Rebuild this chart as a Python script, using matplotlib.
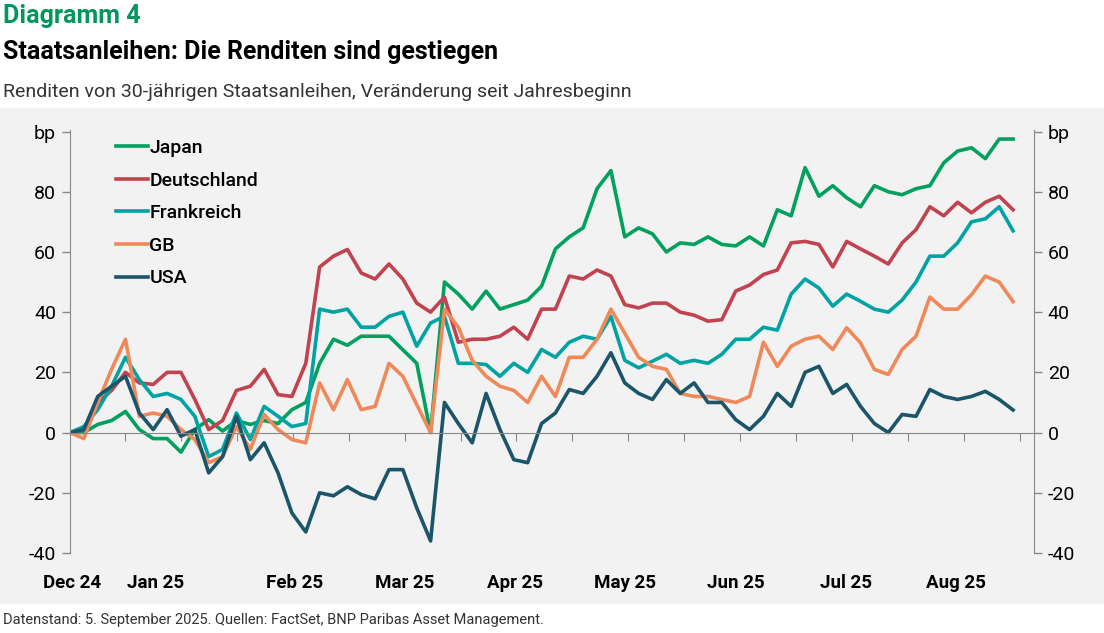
import numpy as np
import matplotlib.pyplot as plt
from matplotlib.patches import Rectangle

# Veränderung seit Jahresbeginn in bp, ~alle 3.6 Tage gelesen
japan = [0, 0, 2.7, 4, 7, 1, -2, -2, -6.5, 1, 4.3, 0.5, 4, 2.7, 4, 3, 7.6, 10, 23, 31, 29, 32, 32, 32,
         27.5, 23, 0, 50, 46, 41, 47, 41, 42.5, 44, 48.6, 61, 65, 68, 81, 87, 65, 68, 66, 60, 63, 62.5,
         65, 62.5, 62, 65, 62, 74, 72, 88, 78.5, 82, 78, 75, 82, 80, 79, 81, 82, 89.6, 93.5, 94.6, 91, 97.5, 97.5]
deutschland = [0, 1, 10, 14, 20, 16.5, 16, 20, 20, 11, 1, 4, 14, 15.4, 21, 12.6, 12, 23, 55, 58.6, 60.8, 53,
               51, 56, 51, 43, 40, 45, 30, 31, 31, 32, 35, 31, 41, 41, 52, 51, 54, 52, 42.5, 41.4, 43, 43,
               40, 39, 37, 37.5, 47, 49, 52.5, 54, 63, 63.5, 62.5, 55, 63.5, 61, 58.6, 56, 63, 67.4, 75,
               72, 76.5, 73, 76.5, 78.5, 74]
frankreich = [0, 2, 7.6, 15.4, 25, 17.6, 12, 13, 11, 5.4, -8, -5.6, 6.5, -2.3, 8.7, 5.4, 2, 3, 41, 40, 41,
              35, 35, 38.6, 40, 28.7, 36.4, 38.6, 23, 23, 22.6, 18.7, 23, 20, 27.6, 25, 30, 32, 31, 38.6,
              24, 21.5, 23.7, 26, 23, 24, 23, 26, 31, 31, 35, 34, 46, 51, 48, 42, 46, 43.6, 41, 40, 44, 50,
              58.6, 58.6, 63, 70, 71, 75, 67]
gb = [0, -2, 10, 21, 31, 5.4, 6.5, 5.4, 1, -2.3, -10, -8, 2, -5.6, 6, 1, -2.3, -3.4, 16.5, 7.6, 17.6, 7.6,
      8.7, 23, 18.7, 9.3, 0, 41, 35, 24, 18.7, 15.4, 14, 10, 18.7, 12, 25, 25, 31, 41, 33, 25, 22, 21, 13,
      12, 12, 11, 10, 12, 30, 22, 28.7, 31, 32, 27.6, 34.8, 29.8, 21, 19.3, 27.6, 32, 45, 41, 41, 45.8,
      52, 50, 43.5]
usa = [0, 1, 12, 15.4, 18.7, 6.5, 1, 7.6, -1.2, 1, -13.4, -8, 5.4, -9, -3.4, -13.4, -26.7, -33, -20, -21,
       -18, -20.6, -22, -12.3, -12.3, -25, -36, 10, 3, -3.4, 13, 1, -9, -10, 3, 6.5, 14.3, 13, 18.7, 26.5,
       16.5, 13, 11, 17.6, 13, 16.5, 10, 10, 4.3, 1, 5.4, 13, 8.7, 20, 22, 13, 16, 8.7, 3, 0, 6, 5.4,
       14.3, 12, 11, 12, 13.7, 11, 7.5]

series = [("Japan", japan, "#00a05e"), ("Deutschland", deutschland, "#c1434f"),
          ("Frankreich", frankreich, "#00a3a3"), ("GB", gb, "#f0895a"), ("USA", usa, "#1b5569")]

days = np.linspace(0, 248, len(japan))  # 31.12.2024 bis 05.09.2025
month_labels = ["Dec 24", "Jan 25", "Feb 25", "Mar 25", "Apr 25", "May 25", "Jun 25", "Jul 25", "Aug 25"]
month_pos = [0.5, 22.5, 59, 88, 117, 146, 175, 204, 233]

plt.rcParams['font.family'] = ['Roboto', 'DejaVu Sans']
fig = plt.figure(figsize=(11.04, 6.33), dpi=100)
W, H = 1104, 633
fig.patches.append(Rectangle((0, 1 - 603 / H), 1, (603 - 108) / H, transform=fig.transFigure,
                             color="#f2f2f2", zorder=-10))
ax = fig.add_axes([70 / W, 1 - 553 / H, (1034 - 70) / W, (553 - 130) / H])
ax.set_facecolor("#f2f2f2")

for name, vals, col in series:
    ax.plot(days, vals, color=col, lw=2.6, label=name, solid_joinstyle="round")

ax.set_xlim(0, 253.5)
ax.set_ylim(-40, 100.5)
ax.set_yticks(range(-40, 101, 20))
ylabs = [str(v) for v in range(-40, 81, 20)] + ["bp"]
ax.set_yticklabels(ylabs)
ax.tick_params(axis="y", labelsize=14, colors="#888888", labelcolor="black", length=6, width=1,
               labelright=True, right=True, pad=4)
ax.spines["top"].set_visible(False)
for s in ["left", "right", "bottom"]:
    ax.spines[s].set_color("#888888")
ax.spines["bottom"].set_position(("data", 0))
ax.set_xticks(np.arange(14.5, 250, 14.7))
ax.tick_params(axis="x", direction="out", length=6, colors="#888888", labelbottom=False)
for lab, p in zip(month_labels, month_pos):
    ax.text(p, -47, lab, ha="center", va="top", fontsize=13.5, fontweight="bold",
            transform=ax.transData, clip_on=False)

leg = ax.legend(loc="upper left", bbox_to_anchor=(0.03, 1.02), frameon=False, fontsize=14,
                handlelength=1.6, handletextpad=0.1, labelspacing=0.75)
for t in leg.get_texts():
    t.set_fontweight("medium")

fig.text(3 / W, 1 - 16 / H, "Diagramm 4", color="#00965e", fontsize=18, fontweight="bold", va="center")
fig.text(3 / W, 1 - 52 / H, "Staatsanleihen: Die Renditen sind gestiegen", fontsize=18,
         fontweight="bold", va="center")
fig.text(3 / W, 1 - 92 / H, "Renditen von 30-jährigen Staatsanleihen, Veränderung seit Jahresbeginn",
         fontsize=14, color="#333333", va="center")
fig.text(3 / W, 1 - 620 / H, "Datenstand: 5. September 2025. Quellen: FactSet, BNP Paribas Asset Management.",
         fontsize=10.5, color="#333333", va="center")

fig.savefig("out.png", dpi=100)
